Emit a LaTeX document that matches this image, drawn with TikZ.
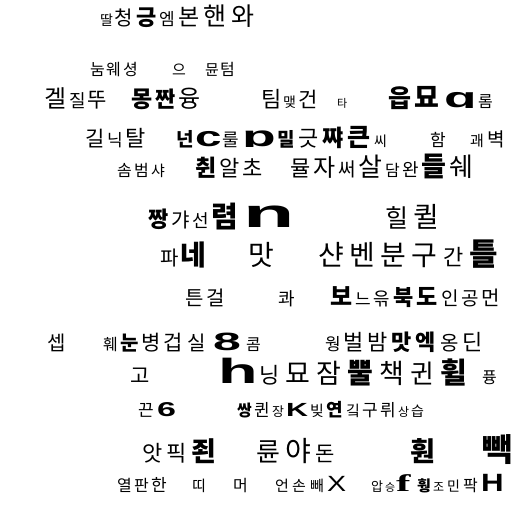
\documentclass[tikz,border=0pt]{standalone}
\usepackage{fontspec}
\usepackage{graphicx}
\setmainfont{Noto Sans CJK KR}
\newfontfamily\lat{Liberation Sans}
\newfontfamily\latserif{Liberation Serif}
\newcounter{kn}
\tikzset{kchar/.style={anchor=base west,inner sep=0pt,outer sep=0pt}}
% #1 x, #2 baseline y, #3 size, #4 text
\newcommand\kc[4]{\stepcounter{kn}\node[kchar,font=\fontsize{#3}{#3}\selectfont] (k\arabic{kn}) at (#1,#2) {#4};}
% Latin glyph, bold sans, horizontally scaled: #1 x, #2 y, #3 size, #4 xscale, #5 char
\newcommand\kl[5]{\stepcounter{kn}\node[kchar,font=\fontsize{#3}{#3}\selectfont\lat\bfseries] (k\arabic{kn}) at (#1,#2) {\scalebox{#4}[1]{#5}};}
% same, clipped at baseline (cut descender)
\newcommand\klc[5]{\begin{scope}\clip (#1-2,#2-50) rectangle (#1+60,#2);\kl{#1}{#2}{#3}{#4}{#5}\end{scope}}
\begin{document}
\begin{tikzpicture}[x=1pt,y=-1pt]
\useasboundingbox (0,0) rectangle (512,512);
% row 1
\kc{100}{25}{14}{딸}
\kc{114}{25}{20}{청}
\kc{136}{25}{22}{\bfseries 긍}
\kc{159}{25}{17}{엠}
\kc{178}{25}{23}{본}
\kc{203}{25}{25}{핸}
\kc{231}{25}{25}{와}
% row 2
\kc{90}{75}{16}{눔}
\kc{106}{75}{16}{웨}
\kc{123}{75}{16}{셩}
\kc{172}{75}{15}{으}
\kc{205}{75}{15}{뮨}
\kc{220}{75}{16}{텀}
% row 3
\kc{45}{107}{24}{겔}
\kc{69}{107}{18}{질}
\kc{87}{107}{21}{뚜}
\kc{131}{107}{23}{\bfseries 몽}
\kc{155}{107}{22}{\bfseries 짠}
\kc{178}{107}{24}{융}
\kc{261}{107}{22}{팀}
\kc{283}{107}{14}{맺}
\kc{298}{107}{21}{건}
\kc{337}{107}{11}{타}
\kc{388}{107}{25}{\bfseries 읍}
\kc{414}{107}{27}{\bfseries 묘}
\klc{444}{107}{28}{1.9}{q}
\kc{478}{107}{16}{롬}
% row 4
\kc{85}{146}{21}{길}
\kc{107}{146}{17}{닉}
\kc{125}{146}{22}{탈}
\kc{176}{146}{19}{\bfseries 넌}
\kl{195}{146}{28}{1.7}{c}
\kc{222}{146}{18}{룰}
\klc{242}{146}{29}{1.9}{p}
\kc{277}{146}{19}{\bfseries 밀}
\kc{298}{146}{22}{긋}
\kc{322}{146}{23}{\bfseries 쨔}
\kc{347}{146}{25}{\bfseries 큰}
\kc{374}{146}{14}{씨}
\kc{430}{146}{17}{함}
\kc{470}{146}{15}{괘}
\kc{487}{146}{19}{벽}
% row 5
\kc{117}{176}{16}{솜}
\kc{134}{176}{16}{범}
\kc{151}{176}{15}{샤}
\kc{195}{176}{23}{\bfseries 췬}
\kc{219}{176}{22}{알}
\kc{242}{176}{22}{초}
\kc{290}{176}{22}{뮬}
\kc{313}{176}{24}{자}
\kc{338}{176}{19}{써}
\kc{358}{176}{26}{살}
\kc{385}{176}{16}{담}
\kc{402}{176}{18}{완}
\kc{421}{176}{27}{\bfseries 들}
\kc{449}{176}{26}{쉐}
% row 6
\kc{148}{227}{22}{\bfseries 짱}
\kc{171}{227}{20}{갸}
\kc{192}{227}{18}{선}
\kc{211}{227}{29}{\bfseries 렴}
\kl{243}{227}{40}{2.1}{n}
\kc{385}{227}{25}{힐}
\kc{413}{227}{28}{퀼}
% row 7
\kc{160}{265}{20}{파}
\kc{180}{265}{28}{\bfseries 네}
\kc{248}{265}{28}{맛}
\kc{318}{265}{28}{샨}
\kc{349}{265}{28}{벤}
\kc{380}{265}{28}{분}
\kc{411}{265}{28}{구}
\kc{443}{265}{22}{간}
\kc{469}{265}{31}{\bfseries 틀}
% row 8
\kc{185}{305}{20}{튼}
\kc{206}{305}{20}{걸}
\kc{278}{305}{18}{콰}
\kc{330}{305}{24}{\bfseries 보}
\kc{355}{305}{17}{느}
\kc{373}{305}{18}{윾}
\kc{393}{305}{22}{\bfseries 북}
\kc{416}{305}{23}{\bfseries 도}
\kc{441}{305}{19}{인}
\kc{461}{305}{19}{공}
\kc{481}{305}{20}{먼}
% row 9
\kc{47}{350}{20}{셉}
\kc{103}{350}{16}{훼}
\kc{120}{350}{20}{\bfseries 눈}
\kc{141}{350}{21}{병}
\kc{163}{350}{21}{겁}
\kc{187}{350}{20}{실}
\kl{213}{350}{25}{2}{8}
\kc{246}{350}{16}{콤}
\kc{325}{350}{17}{웡}
\kc{343}{350}{22}{벌}
\kc{367}{350}{22}{밤}
\kc{391}{350}{22}{\bfseries 맛}
\kc{415}{350}{22}{\bfseries 엑}
\kc{440}{350}{20}{옹}
\kc{462}{350}{22}{딘}
% row 10
\kc{130}{383}{21}{고}
\kl{218}{383}{35}{1.85}{h}
\kc{259}{383}{22}{닝}
\kc{285}{383}{27}{묘}
\kc{316}{383}{27}{잠}
\kc{347}{383}{28}{\bfseries 뿔}
\kc{379}{383}{27}{책}
\kc{410}{383}{26}{귄}
\kc{440}{383}{29}{\bfseries 휠}
\kc{482}{383}{16}{퓽}
% row 11
\kc{138}{416}{17}{끈}
\kl{157}{416}{20}{1.7}{6}
\kc{237}{416}{16}{\bfseries 쌍}
\kc{254}{416}{17}{퀸}
\kc{272}{416}{13}{장}
\kl{286}{416}{19}{1.6}{K}
\kc{310}{416}{15}{빚}
\kc{326}{416}{18}{\bfseries 연}
\kc{346}{416}{15}{깈}
\kc{362}{416}{17}{구}
\kc{380}{416}{17}{뤼}
\kc{398}{416}{12}{상}
\kc{411}{416}{14}{습}
% row 12
\kc{142}{461}{22}{앗}
\kc{166}{461}{22}{픽}
\kc{191}{461}{27}{\bfseries 죈}
\kc{256}{461}{26}{륜}
\kc{285}{461}{28}{야}
\kc{315}{461}{21}{돈}
\kc{410}{461}{27}{\bfseries 훤}
\kc{482}{461}{32}{\bfseries 빽}
% row 13
\kc{117}{491}{16}{열}
\kc{134}{491}{16}{판}
\kc{151}{491}{17}{한}
\kc{192}{491}{15}{띠}
\kc{233}{491}{16}{머}
\kc{275}{491}{15}{언}
\kc{292}{491}{15}{손}
\kc{310}{491}{15}{빼}
\stepcounter{kn}\node[kchar,font=\fontsize{22}{22}\selectfont\lat] (k\arabic{kn}) at (327,491) {\scalebox{1.3}[1]{X}};
\kc{371}{491}{13}{압}
\kc{385}{491}{11}{승}
\stepcounter{kn}\node[kchar,font=\fontsize{24}{24}\selectfont\latserif\bfseries] (k\arabic{kn}) at (396,491) {\scalebox{1.8}[1]{f}};
\kc{417}{491}{15}{\bfseries 훵}
\kc{433}{491}{12}{조}
\kc{447}{491}{14}{민}
\kc{463}{491}{16}{팍}
\kl{481}{491}{25}{1.25}{H}
\end{tikzpicture}
\end{document}
